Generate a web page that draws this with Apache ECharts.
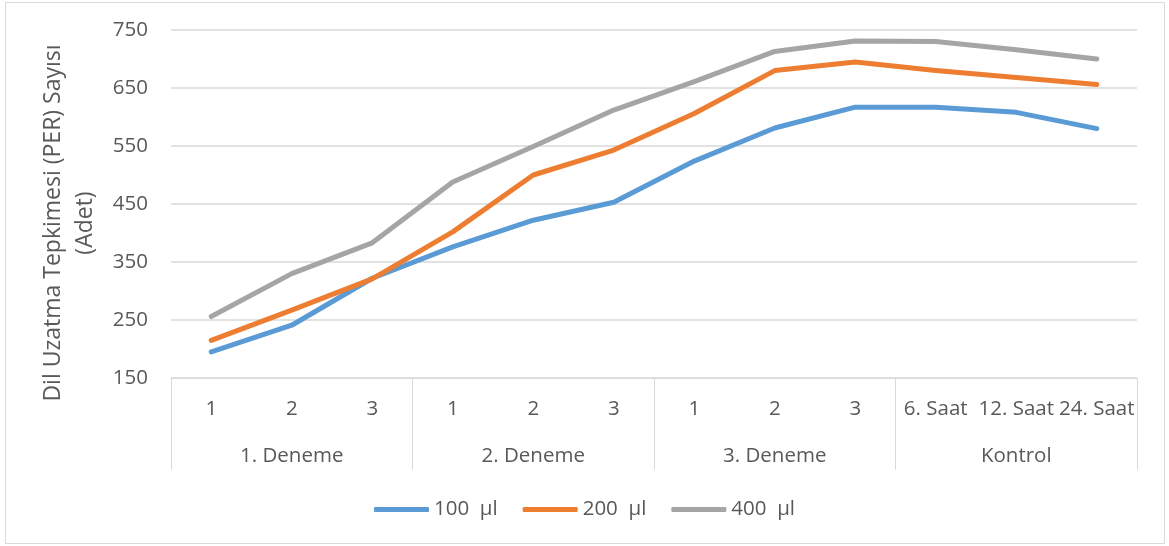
<!DOCTYPE html>
<html>
<head>
<meta charset="utf-8">
<script src="https://cdn.jsdelivr.net/npm/echarts@6/dist/echarts.min.js"></script>
<style>
  html, body { margin: 0; padding: 0; background: #ffffff; }
  #frame { position: absolute; left: 5px; top: 2px; width: 1158px; height: 540px; border: 1.5px solid #d9d9d9; }
  #chart { position: absolute; left: 0; top: 0; width: 1169px; height: 546px; }
</style>
</head>
<body>
<div id="frame"></div>
<div id="chart"></div>
<script>
// ---- data ----
const groups = ['1. Deneme', '2. Deneme', '3. Deneme', 'Kontrol'];
const subLabels = ['1', '2', '3', '1', '2', '3', '1', '2', '3', '6. Saat', '12. Saat', '24. Saat'];
const seriesNames = ['100  µl', '200  µl', '400  µl'];
const values100 = [195, 241, 322, 376, 422, 453, 524, 581, 617, 617, 608, 580];
const values200 = [215, 267, 321, 402, 500, 543, 606, 680, 695, 680, 668, 656];
const values400 = [256, 330, 383, 488, 549, 612, 661, 713, 731, 730, 716, 700];
const yTicks = [150, 250, 350, 450, 550, 650, 750];
const yTitle = 'Dil Uzatma Tepkimesi (PER) Sayısı\n(Adet)';

// ---- chart ----
const colors = ['#5B9BD5', '#ED7D31', '#A5A5A5'];
const txt = '#595959';
const font = 'Open Sans';
const fs = 20.5;
const xKeys = subLabels.map((s, i) => i + '|' + s);

const chart = echarts.init(document.getElementById('chart'), null, { renderer: 'canvas' });
const mkSeries = (name, data, color) => ({
  name: name,
  type: 'line',
  data: data,
  xAxisIndex: 0,
  symbol: 'none',
  showSymbol: false,
  smooth: false,
  itemStyle: { color: color },
  lineStyle: { color: color, width: 5, cap: 'round', join: 'round' },
  emphasis: { disabled: true },
  animation: false
});

chart.setOption({
  animation: false,
  color: colors,
  textStyle: { fontFamily: font, color: txt },
  grid: { left: 171, right: 32, top: 30, bottom: 168, containLabel: false },
  legend: {
    data: seriesNames,
    left: 'center',
    top: 494,
    icon: 'roundRect',
    itemWidth: 55,
    itemHeight: 5,
    itemGap: 25,
    textStyle: { fontFamily: font, fontSize: fs, color: txt }
  },
  xAxis: [
    {
      type: 'category',
      position: 'bottom',
      data: xKeys,
      boundaryGap: true,
      axisLine: { show: true, lineStyle: { color: '#d9d9d9', width: 1 } },
      axisTick: { show: false },
      splitLine: { show: false },
      axisLabel: {
        interval: 0,
        hideOverlap: false,
        margin: 21,
        fontFamily: font,
        fontSize: fs,
        color: txt,
        formatter: (v) => v.split('|')[1]
      }
    },
    {
      type: 'category',
      position: 'bottom',
      data: xKeys,
      boundaryGap: true,
      axisLine: { show: false },
      axisTick: {
        show: true,
        interval: (i) => i % 3 === 0,
        length: 92,
        lineStyle: { color: '#d9d9d9', width: 1 }
      },
      splitLine: { show: false },
      axisLabel: {
        interval: (i) => i % 3 === 1,
        hideOverlap: false,
        margin: 68,
        fontFamily: font,
        fontSize: fs,
        color: txt,
        formatter: (v, idx) => groups[Math.floor(idx / 3)]
      }
    }
  ],
  yAxis: {
    type: 'value',
    min: 150,
    max: 750,
    name: yTitle,
    nameLocation: 'middle',
    nameRotate: 90,
    nameGap: 70,
    nameTextStyle: { fontFamily: font, fontSize: 23, color: txt, lineHeight: 32, align: 'center', padding: [0, 38, 0, 0] },
    axisLine: { show: false },
    axisTick: { show: false, customValues: yTicks },
    splitLine: { show: true, lineStyle: { color: '#d9d9d9', width: 1.5 } },
    axisLabel: { customValues: yTicks, margin: 23, fontFamily: font, fontSize: fs, color: txt }
  },
  series: [
    mkSeries(seriesNames[0], values100, colors[0]),
    mkSeries(seriesNames[1], values200, colors[1]),
    mkSeries(seriesNames[2], values400, colors[2])
  ]
});
</script>
</body>
</html>
